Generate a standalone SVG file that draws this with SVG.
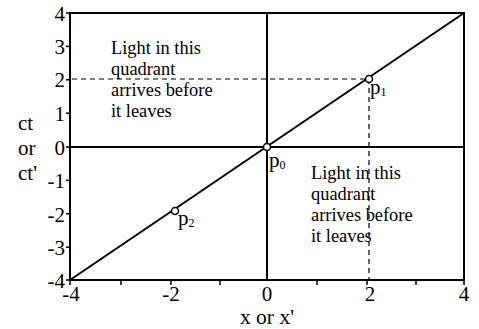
<svg xmlns="http://www.w3.org/2000/svg" width="479" height="329" viewBox="0 0 479 329">
<style>
text{font-family:"Liberation Serif","Times New Roman",serif;fill:#000}
.lab{font-size:21px}
.q{font-size:18.4px}
.ax{stroke:#000;stroke-width:2;fill:none}
.dash{stroke:#000;stroke-width:1.2;stroke-dasharray:5,4;fill:none}
.tick{stroke:#000;stroke-width:1.5}
.pt{fill:#fff;stroke:#000;stroke-width:1.5}
</style>
<rect width="479" height="329" fill="#fff"/>
<g id="connectors">
<rect class="ax" x="70" y="13" width="394" height="267"/>
<line class="ax" x1="267" y1="13" x2="267" y2="280"/>
<line class="ax" x1="70" y1="147" x2="464" y2="147"/>
<line class="ax" x1="70" y1="280" x2="464" y2="13"/>
<line class="dash" x1="72" y1="79" x2="369" y2="79"/>
<line class="dash" x1="369" y1="79" x2="369" y2="280"/>
</g>
<g id="ticks">
<line class="tick" x1="66" y1="13" x2="70" y2="13"/>
<line class="tick" x1="66" y1="46.4" x2="70" y2="46.4"/>
<line class="tick" x1="66" y1="79.8" x2="70" y2="79.8"/>
<line class="tick" x1="66" y1="113.2" x2="70" y2="113.2"/>
<line class="tick" x1="66" y1="147" x2="70" y2="147"/>
<line class="tick" x1="66" y1="180.4" x2="70" y2="180.4"/>
<line class="tick" x1="66" y1="213.8" x2="70" y2="213.8"/>
<line class="tick" x1="66" y1="247.2" x2="70" y2="247.2"/>
<line class="tick" x1="66" y1="280" x2="70" y2="280"/>
<line class="tick" x1="70" y1="280" x2="70" y2="285"/>
<line class="tick" x1="121" y1="280" x2="121" y2="285"/>
<line class="tick" x1="171" y1="280" x2="171" y2="285"/>
<line class="tick" x1="220" y1="280" x2="220" y2="285"/>
<line class="tick" x1="317" y1="280" x2="317" y2="285"/>
<line class="tick" x1="367" y1="280" x2="367" y2="285"/>
<line class="tick" x1="416" y1="280" x2="416" y2="285"/>
<line class="tick" x1="464" y1="280" x2="464" y2="285"/>
</g>
<g id="ylabels" class="lab" text-anchor="end">
<text x="65" y="21">4</text>
<text x="65" y="54">3</text>
<text x="65" y="87">2</text>
<text x="65" y="121">1</text>
<text x="65" y="155">0</text>
<text x="65" y="188">-1</text>
<text x="65" y="222">-2</text>
<text x="65" y="255">-3</text>
<text x="65" y="288">-4</text>
</g>
<g id="xlabels" class="lab" text-anchor="middle">
<text x="71" y="301">-4</text>
<text x="171" y="301">-2</text>
<text x="267" y="301">0</text>
<text x="370" y="301">2</text>
<text x="464" y="301">4</text>
</g>
<g id="axis-titles" class="lab">
<text x="18" y="130">ct</text>
<text x="18" y="155">or</text>
<text x="18" y="180">ct'</text>
<text x="267" y="324" text-anchor="middle" font-size="21.5">x or x'</text>
</g>
<g id="quadrant-ul" class="q">
<text x="111" y="54">Light in this</text>
<text x="111" y="75">quadrant</text>
<text x="111" y="96">arrives before</text>
<text x="111" y="117">it leaves</text>
</g>
<g id="quadrant-lr" class="q">
<text x="311" y="179">Light in this</text>
<text x="311" y="200">quadrant</text>
<text x="311" y="221">arrives before</text>
<text x="311" y="242">it leaves</text>
</g>
<g id="p0">
<circle class="pt" cx="267" cy="147" r="3.5"/>
<text class="lab" x="269" y="167">p<tspan font-size="12" dy="2">0</tspan></text>
</g>
<g id="p1">
<circle class="pt" cx="369" cy="79" r="3.5"/>
<text class="lab" x="370" y="94">p<tspan font-size="12" dy="2">1</tspan></text>
</g>
<g id="p2">
<circle class="pt" cx="175" cy="211" r="3.5"/>
<text class="lab" x="178" y="225">p<tspan font-size="12" dy="2">2</tspan></text>
</g>
</svg>
